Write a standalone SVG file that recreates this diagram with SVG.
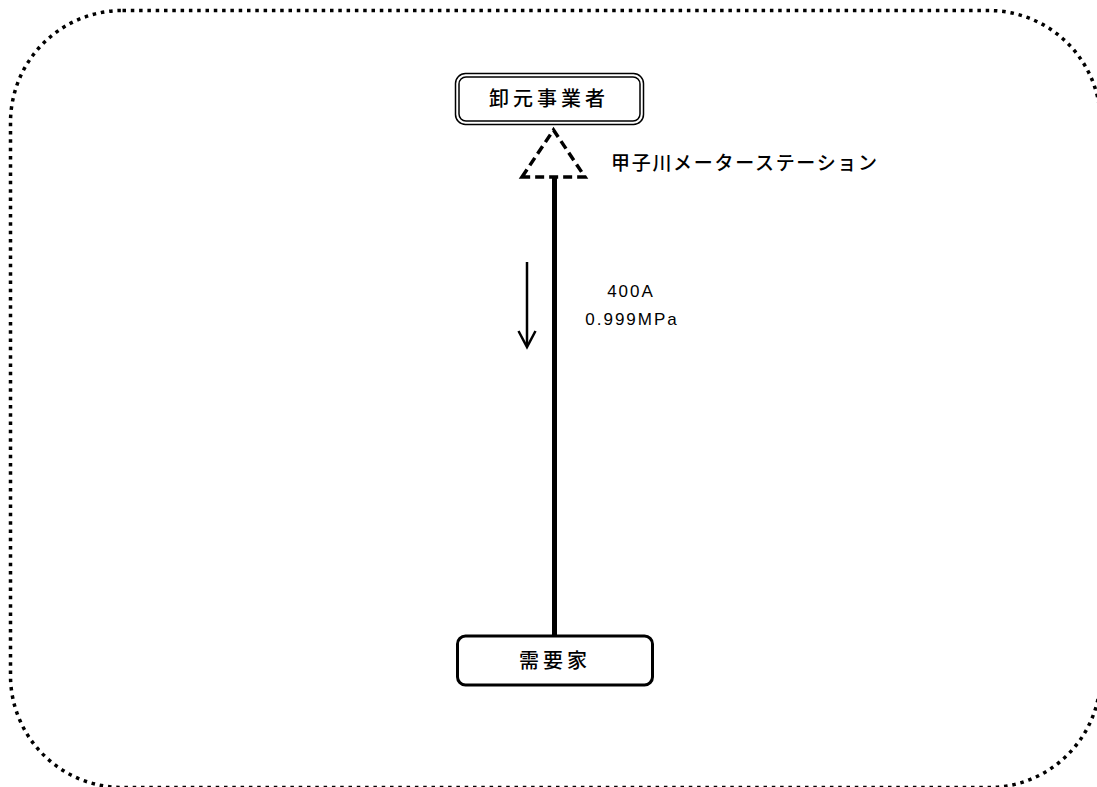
<svg xmlns="http://www.w3.org/2000/svg" width="1097" height="787" viewBox="0 0 1097 787">
<style>
.jp{font-family:"Noto Sans CJK JP","Noto Sans CJK SC",sans-serif;fill:#000;font-weight:500}
.lat{font-family:"Liberation Sans",Arial,sans-serif;fill:#000;font-size:17px;letter-spacing:2px}
.frame{fill:none;stroke:#000;stroke-width:3.5;stroke-dasharray:3.5 4.8}
</style>
<rect width="1097" height="787" fill="#fff"/>
<g id="frame"><rect class="frame" x="10.5" y="10.5" width="1090" height="777" rx="112" ry="112"/></g>
<g id="node-oroshimoto">
<rect x="455.5" y="73.5" width="188" height="51" rx="10" fill="#fff" stroke="#000" stroke-width="1.5"/>
<rect x="459" y="77" width="181" height="44" rx="7" fill="none" stroke="#000" stroke-width="1.5"/>
<text class="jp" x="489" y="106" font-size="20" letter-spacing="4">卸元事業者</text>
</g>
<g id="node-station">
<path d="M522 177 L553.5 130 L585 177 Z" fill="#fff" stroke="#000" stroke-width="3.5" stroke-dasharray="9 5" stroke-linejoin="miter"/>
<text class="jp" x="611" y="170" font-size="19" letter-spacing="1.7">甲子川メーターステーション</text>
</g>
<g id="node-juyouka">
<rect x="457.5" y="636" width="195" height="49" rx="8" fill="#fff" stroke="#000" stroke-width="3"/>
<text class="jp" x="519" y="668" font-size="20" letter-spacing="4">需要家</text>
</g>
<g id="connectors">
<line x1="554.5" y1="178" x2="554.5" y2="636" stroke="#000" stroke-width="5"/>
<line x1="527" y1="262" x2="527" y2="346" stroke="#000" stroke-width="2.5"/>
<polyline points="518.5,331 527,347 535.5,331" fill="none" stroke="#000" stroke-width="2.5"/>
</g>
<g id="labels">
<text class="lat" x="631" y="297" text-anchor="middle">400A</text>
<text class="lat" x="632" y="325" text-anchor="middle">0.999MPa</text>
</g>
</svg>
